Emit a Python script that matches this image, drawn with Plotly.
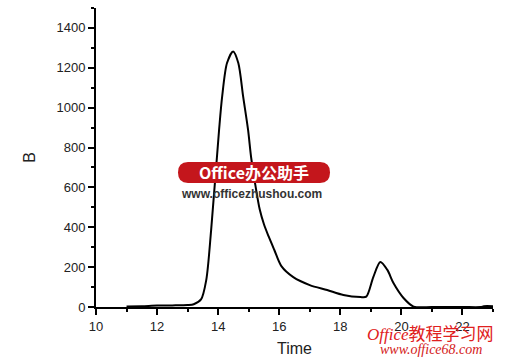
import plotly.graph_objects as go

time = [11.0, 11.5, 12.0, 12.5, 13.0, 13.2, 13.44, 13.61, 13.77, 14.03, 14.13, 14.29, 14.49,
        14.66, 14.82, 14.98, 15.08, 15.22, 15.36, 15.5, 15.65, 15.84, 16.07, 16.46, 17.0, 17.57,
        18.1, 18.66, 18.85, 19.08, 19.31, 19.54, 19.74, 20.07, 20.4, 21.0, 22.0, 22.6, 22.7, 23.0]
b_vals = [2, 4, 7, 8, 10, 14, 38, 135, 386, 888, 1054, 1224, 1282,
          1224, 1054, 888, 750, 610, 490, 415, 355, 286, 205, 150, 110, 85,
          60, 50, 52, 150, 226, 186, 120, 45, 2, 0, 0, 0, 4, 4]

x_ticks = [10, 12, 14, 16, 18, 20, 22]
y_ticks = [0, 200, 400, 600, 800, 1000, 1200, 1400]

fig = go.Figure()
fig.add_trace(go.Scatter(x=time, y=b_vals, mode="lines",
                         line=dict(color="black", width=2, shape="spline", smoothing=0.8),
                         showlegend=False))

W, H = 507, 364
L, R, T, B = 96, 14, 8, 57
pw, ph = W - L - R, H - T - B

def px(x):
    return (x - L) / pw

def py(y):
    return (H - B - y) / ph

x0, x1 = px(178), px(330)
yt, yb = py(162), py(183)
rx, ry = 0.025, (yt - yb) / 2
path = (f"M {x0+rx},{yt} L {x1-rx},{yt} Q {x1},{yt} {x1},{yt-ry} Q {x1},{yb} {x1-rx},{yb} "
        f"L {x0+rx},{yb} Q {x0},{yb} {x0},{yb+ry} Q {x0},{yt} {x0+rx},{yt} Z")
fig.add_shape(type="path", path=path, xref="paper", yref="paper",
              fillcolor="#c4161c", line=dict(width=0), layer="above")

font = "Liberation Sans, Arial, sans-serif"
ann = dict(xref="paper", yref="paper", showarrow=False, xanchor="center", yanchor="middle")
fig.add_annotation(x=px(254), y=py(172), text="<b>Office办公助手</b>",
                   font=dict(family="Noto Sans CJK SC, sans-serif", size=16, color="white"), **ann)
fig.add_annotation(x=px(251), y=py(194), text="<b>www.officezhushou.com</b>",
                   font=dict(family=font, size=12, color="#333333"), **ann)
fig.add_annotation(x=px(430), y=py(334), text="<i>Office</i>教程学习网",
                   font=dict(family="Liberation Serif, Noto Sans CJK SC, serif", size=17,
                             color="#e02020"), **ann)
fig.add_annotation(x=px(431), y=py(349), text="<i>www.office68.com</i>",
                   font=dict(family="Liberation Serif, serif", size=14, color="#d42020"), **ann)

axis_common = dict(showline=True, linecolor="black", linewidth=2, showgrid=False,
                   zeroline=False, ticks="outside", ticklen=6, tickwidth=1.5, tickcolor="black",
                   tickfont=dict(family=font, size=13, color="#222222"),
                   minor=dict(ticks="outside", ticklen=3, tickwidth=1.5, tickcolor="black"))

fig.update_xaxes(range=[10, 23], tickvals=x_ticks, ticktext=[str(v) for v in x_ticks],
                 minor_dtick=1, minor_tick0=10,
                 title=dict(text="Time", font=dict(family=font, size=16, color="#222222"), standoff=10),
                 **axis_common)
fig.update_yaxes(range=[0, 1500], tickvals=y_ticks, ticktext=[str(v) for v in y_ticks],
                 minor_dtick=100, minor_tick0=0,
                 title=dict(text="B", font=dict(family=font, size=16, color="#222222"), standoff=17),
                 **axis_common)

fig.update_layout(width=W, height=H, margin=dict(l=L, r=R, t=T, b=B),
                  paper_bgcolor="white", plot_bgcolor="white")

fig.write_html("out.html")
